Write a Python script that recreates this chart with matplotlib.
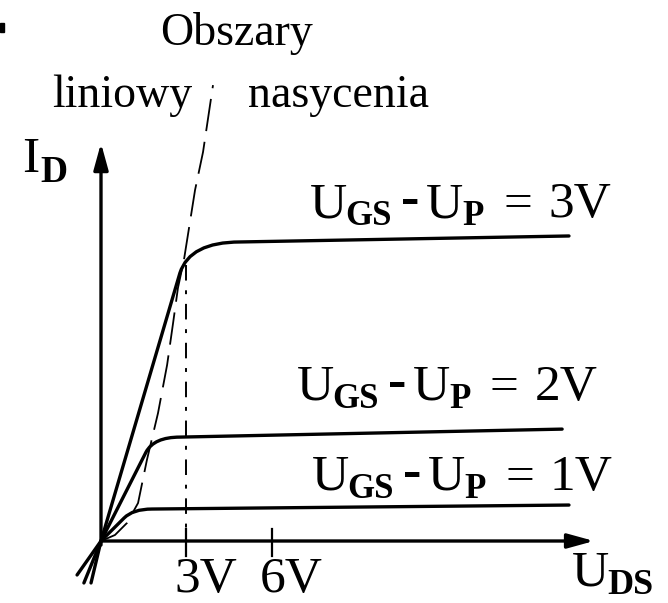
"""JFET output characteristics: I_D versus U_DS for three gate overdrives."""

import matplotlib

matplotlib.use("Agg")
import matplotlib.pyplot as plt
import numpy as np
from matplotlib.patches import PathPatch, Rectangle
from matplotlib.path import Path

# gate overdrive U_GS - U_P [V] of each characteristic
overdrive = [3, 2, 1]

# each curve: tail below origin, origin, end of linear part, knee control,
# start of saturation, far end   (U_DS in V, I_D in arbitrary units)
curve_u = [
    [-0.35, 0.0, 2.77, 3.12, 4.88, 16.42],
    [-0.60, 0.0, 1.58, 1.86, 2.77, 16.18],
    [-0.84, 0.0, 0.81, 1.12, 1.79, 16.42],
]
curve_i = [
    [-1.26, 0.0, 8.05, 8.98, 8.98, 9.16],
    [-1.26, 0.0, 2.67, 3.12, 3.12, 3.36],
    [-1.02, 0.0, 0.69, 0.96, 0.96, 1.08],
]

# border between the linear and the saturation region
boundary_u = [0.0, 0.49, 0.91, 1.30, 1.61, 2.00, 2.32, 2.53, 2.70, 2.91, 3.30, 3.58, 3.93]
boundary_i = [0.0, 0.18, 0.54, 1.14, 2.43, 3.84, 5.29, 6.55, 7.60, 8.44, 10.54, 11.68, 13.69]

tick_u = [3, 6]
tick_labels = ["3V", "6V"]
guide_top = 8.3  # the 3V guide line runs up to the knee of the top curve

u_axis_end = 17.3
i_axis_end = 11.95

W, H, DPI = 6.68, 6.03, 100
PX_X0, PX_Y0 = 101, 541  # crossing of the axes, pixels from top-left
SX, SY = 28.5, 33.3  # pixels per volt / per current unit
SERIF = "Liberation Serif"


def px_text(fig, x, y, s, size, weight="normal"):
    # x, y in pixels from the top-left corner, y is the baseline
    return fig.text(x / (W * DPI), 1 - y / (H * DPI), s, fontsize=size,
                    fontweight=weight, family=SERIF, ha="left", va="baseline")


def overdrive_label(fig, x, y, volts):
    px_text(fig, x, y, "U", 37)
    px_text(fig, x + 35, y + 8, "GS", 25, "bold")
    px_text(fig, x + 91, y - 2, "-", 40, "bold")
    px_text(fig, x + 116, y, "U", 37)
    px_text(fig, x + 152, y + 8, "P", 25, "bold")
    px_text(fig, x + 193, y, "=", 37)
    px_text(fig, x + 238, y, f"{volts}V", 37)


def main() -> None:
    fig = plt.figure(figsize=(W, H), dpi=DPI)
    ax = fig.add_axes([0, 0, 1, 1])
    ax.set_xlim(-PX_X0 / SX, (W * DPI - PX_X0) / SX)
    ax.set_ylim(-(H * DPI - PX_Y0) / SY, PX_Y0 / SY)
    ax.axis("off")

    codes = [Path.MOVETO, Path.LINETO, Path.LINETO, Path.CURVE3, Path.CURVE3, Path.LINETO]
    for us, cur in zip(curve_u, curve_i):
        path = Path(np.column_stack([us, cur]), codes)
        ax.add_patch(PathPatch(path, fill=False, lw=2.4, ec="black",
                               capstyle="round", joinstyle="round"))

    ax.plot(boundary_u, boundary_i, color="black", lw=1.3, dashes=(18, 6))
    ax.plot([tick_u[0], tick_u[0]], [guide_top, 0], color="black", lw=1.4,
            linestyle=(0, (8, 5, 2, 5)))

    for u, lab in zip(tick_u, tick_labels):
        ax.plot([u, u], [0.35, -0.45], color="black", lw=1.6)
        ax.annotate(lab, xy=(u, 0), xytext=(-12, -51), textcoords="offset pixels",
                    fontsize=37, family=SERIF, ha="left", va="baseline")

    arrow = dict(arrowstyle="-|>,head_length=0.8,head_width=0.22", lw=2.4,
                 color="black", shrinkA=0, shrinkB=0, mutation_scale=20)
    ax.annotate("", xy=(u_axis_end, 0), xytext=(0, 0), arrowprops=arrow)
    ax.annotate("", xy=(0, i_axis_end), xytext=(0, -0.12), arrowprops=arrow)

    # curve labels
    for volts, (x, y) in zip(overdrive, [(310, 217), (297, 400), (312, 490)]):
        overdrive_label(fig, x, y, volts)

    # axis names
    px_text(fig, 22, 172, "I", 37)
    px_text(fig, 40, 182, "D", 27, "bold")
    px_text(fig, 572, 586, "U", 37)
    px_text(fig, 607, 594, "DS", 26, "bold")

    # region names
    px_text(fig, 160, 45, "Obszary", 33)
    px_text(fig, 52, 107, "liniowy", 33)
    px_text(fig, 248, 107, "nasycenia", 33)

    fig.add_artist(Rectangle((0, 1 - 32 / (H * DPI)), 4 / (W * DPI), 9 / (H * DPI),
                             transform=fig.transFigure, color="black"))

    fig.savefig("out.png", dpi=DPI)
    plt.close(fig)


if __name__ == "__main__":
    main()
